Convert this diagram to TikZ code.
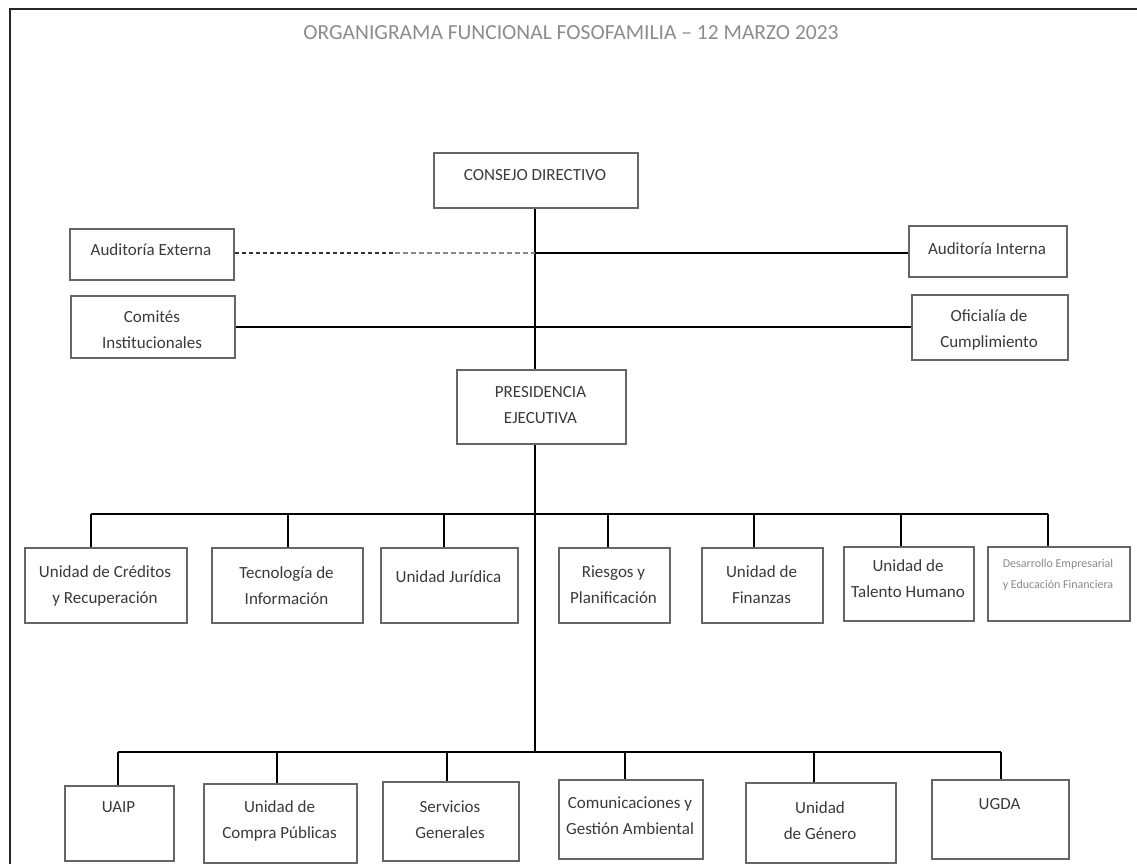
\documentclass[tikz,border=0pt]{standalone}
\usepackage{fontspec}
\setmainfont{Carlito}
\definecolor{boxgray}{HTML}{666666}
\definecolor{txtgray}{HTML}{3A3A3A}
\definecolor{titlegray}{HTML}{8C8C8C}
\definecolor{lightgray2}{HTML}{8A8A8A}
\newcommand\orgbox[7]{%
  \node[box,anchor=north west,minimum width={(#4-#2)*1pt},minimum height={(#5-#3)*1pt}] (#1) at (#2,#3) {};
  \node[txt] (#1t) at ({(#2+#4)/2},#6) {#7};}
\begin{document}
\begin{tikzpicture}[x=1pt,y=-1pt,
  box/.style={draw=boxgray,line width=1.8pt,inner sep=0pt,fill=white},
  txt/.style={text=txtgray,align=center,inner sep=0pt,font=\fontsize{17}{26}\selectfont},
  smalltxt/.style={text=lightgray2,align=center,inner sep=0pt,font=\fontsize{12}{21}\selectfont},
  conn/.style={line width=2.4pt,black},
  trunk/.style={line width=1.9pt,black},
  framel/.style={line width=2.2pt,black!85}]
\useasboundingbox (0,0) rectangle (1137,864);
\draw[framel] (10,866) -- (10,9) -- (1140,9);
\node[text=titlegray,font=\fontsize{21.5}{24}\selectfont] (title) at (571,33) {ORGANIGRAMA FUNCIONAL FOSOFAMILIA – 12 MARZO 2023};

\orgbox{consejo}{433}{152}{637}{207}{175}{CONSEJO DIRECTIVO}
\orgbox{audext}{69}{228}{233}{279}{250}{Auditoría Externa}
\orgbox{audint}{908}{225}{1066}{276}{249}{Auditoría Interna}
\orgbox{comites}{70}{295}{234}{357}{330}{Comités\\Institucionales}
\orgbox{oficialia}{911}{294}{1067}{359}{330}{Oficialía de\\Cumplimiento}
\orgbox{pres}{456}{369}{625}{443}{405}{PRESIDENCIA\\EJECUTIVA}

\orgbox{r1}{24}{547}{186}{622}{586}{Unidad de Créditos\\y Recuperación}
\orgbox{r2}{211}{547}{362}{622}{586}{Tecnología de\\Información}
\orgbox{r3}{380}{547}{517}{622}{577}{Unidad Jurídica}
\orgbox{r4}{558}{547}{669}{622}{585}{Riesgos y\\Planificación}
\orgbox{r5}{701}{547}{822}{622}{585}{Unidad de\\Finanzas}
\orgbox{r6}{843}{546}{973}{620}{579}{Unidad de\\Talento Humano}
\node[box,anchor=north west,minimum width=142pt,minimum height=74pt] (r7) at (987,546) {};
\node[smalltxt] (r7t) at (1058,575) {Desarrollo Empresarial\\y Educación Financiera};

\orgbox{s1}{64}{785}{173}{860}{807}{UAIP}
\orgbox{s2}{203}{783}{356}{862}{821}{Unidad de\\Compra Públicas}
\orgbox{s3}{382}{781}{518}{860}{820}{Servicios\\Generales}
\orgbox{s4}{558}{779}{702}{858}{816}{Comunicaciones y\\Gestión Ambiental}
\orgbox{s5}{745}{782}{895}{862}{821}{Unidad\\de Género}
\orgbox{s6}{931}{779}{1068}{858}{804}{UGDA}

% trunk
\coordinate (t1) at (535,253);
\coordinate (dm) at (395,253);
\coordinate (b2) at (535,752);
\draw[trunk] (consejo.south -| t1) -- (t1 |- pres.north);
\draw[trunk] (t1 |- pres.south) -- (b2);
% staff lines
\draw[line width=1.4pt,black!80,dash pattern=on 4pt off 3pt] (audext.east |- t1) -- (dm);
\draw[line width=2.2pt,lightgray2,dash pattern=on 5pt off 3pt] (dm) -- (t1);
\draw[conn] (t1) -- (t1 -| audint.west);
\draw[conn] (comites.east) -- (comites.east -| oficialia.west);

% upper bus
\coordinate (d1) at (91,514);
\coordinate (d2) at (288,514);
\coordinate (d3) at (444,514);
\coordinate (d4) at (608,514);
\coordinate (d5) at (754,514);
\coordinate (d6) at (901,514);
\coordinate (d7) at (1048,514);
\draw[conn] (d1) -- (d7);
\foreach \i in {1,...,7} {\draw[trunk] (d\i) -- (d\i |- r\i.north);}

% lower bus
\coordinate (e1) at (118,752);
\coordinate (e2) at (277,752);
\coordinate (e3) at (447,752);
\coordinate (e4) at (625,752);
\coordinate (e5) at (814,752);
\coordinate (e6) at (1001,752);
\draw[conn] (e1) -- (e6);
\foreach \i in {1,...,6} {\draw[trunk] (e\i) -- (e\i |- s\i.north);}
\end{tikzpicture}
\end{document}
